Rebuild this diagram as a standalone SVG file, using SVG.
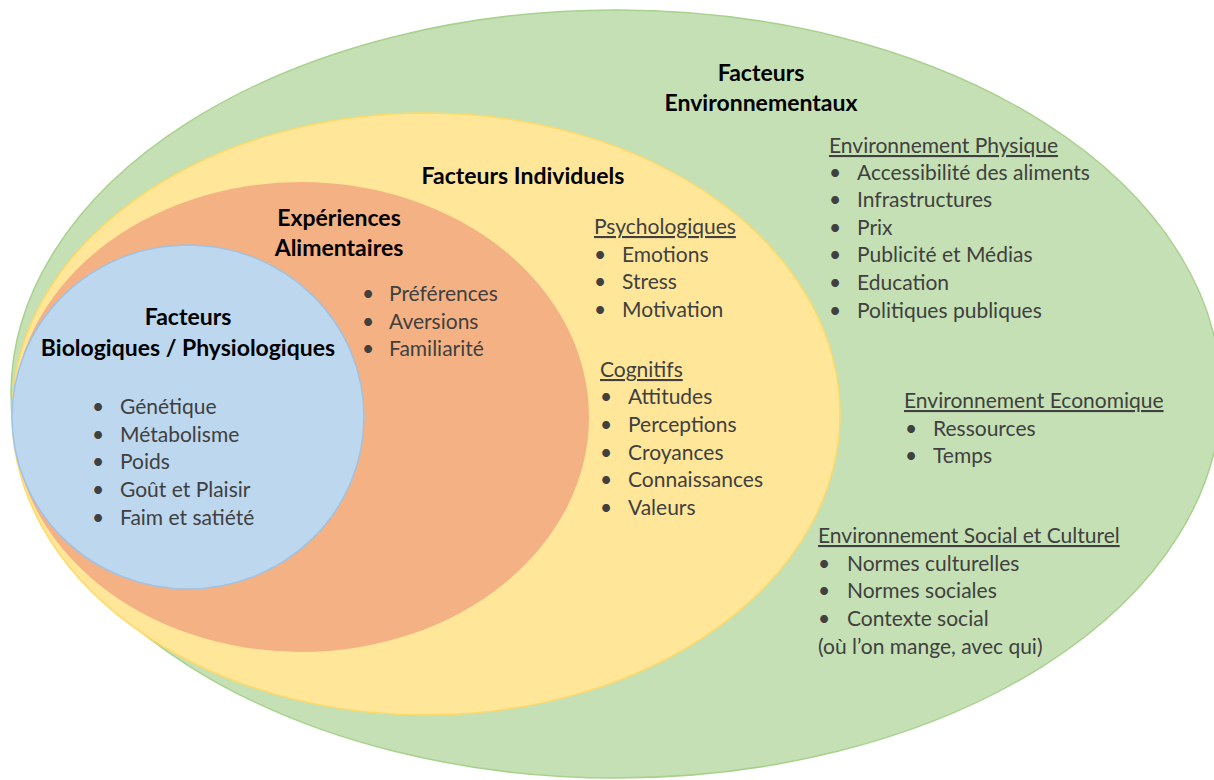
<svg xmlns="http://www.w3.org/2000/svg" width="1214" height="780" viewBox="0 0 1214 780">
<style>
.t{font-family:Lato,"Liberation Sans",sans-serif;font-size:21px;fill:#404040}
.h{font-family:Lato,"Liberation Sans",sans-serif;font-size:23px;font-weight:bold;fill:#000;text-anchor:middle}
.u{text-decoration:underline}
</style>
<rect width="1214" height="780" fill="#fff"/>
<g id="env">
<ellipse cx="616" cy="394" rx="605" ry="384" fill="#C5E0B4" stroke="#A9D18E" stroke-width="1.5"/>
<text class="h" x="761" y="81">Facteurs</text>
<text class="h" x="761" y="111">Environnementaux</text>
<text class="t u" x="829" y="153">Environnement Physique</text>
<text class="t" x="829" y="180">•<tspan x="857">Accessibilité des aliments</tspan></text>
<text class="t" x="829" y="207">•<tspan x="857">Infrastructures</tspan></text>
<text class="t" x="829" y="235">•<tspan x="857">Prix</tspan></text>
<text class="t" x="829" y="262">•<tspan x="857">Publicité et Médias</tspan></text>
<text class="t" x="829" y="290">•<tspan x="857">Education</tspan></text>
<text class="t" x="829" y="318">•<tspan x="857">Politiques publiques</tspan></text>
<text class="t u" x="904" y="408">Environnement Economique</text>
<text class="t" x="905" y="436">•<tspan x="933">Ressources</tspan></text>
<text class="t" x="905" y="463">•<tspan x="933">Temps</tspan></text>
<text class="t u" x="818" y="543">Environnement Social et Culturel</text>
<text class="t" x="818" y="571">•<tspan x="847">Normes culturelles</tspan></text>
<text class="t" x="818" y="598">•<tspan x="847">Normes sociales</tspan></text>
<text class="t" x="818" y="626">•<tspan x="847">Contexte social</tspan></text>
<text class="t" x="818" y="654">(où l’on mange, avec qui)</text>
</g>
<g id="indiv">
<ellipse cx="426" cy="414" rx="414" ry="301" fill="#FFE699" stroke="#FFD966" stroke-width="1.5"/>
<text class="h" x="523" y="184">Facteurs Individuels</text>
<text class="t u" x="594" y="234">Psychologiques</text>
<text class="t" x="594" y="262">•<tspan x="622">Emotions</tspan></text>
<text class="t" x="594" y="289">•<tspan x="622">Stress</tspan></text>
<text class="t" x="594" y="317">•<tspan x="622">Motivation</tspan></text>
<text class="t u" x="600" y="377">Cognitifs</text>
<text class="t" x="600" y="404">•<tspan x="628">Attitudes</tspan></text>
<text class="t" x="600" y="432">•<tspan x="628">Perceptions</tspan></text>
<text class="t" x="600" y="460">•<tspan x="628">Croyances</tspan></text>
<text class="t" x="600" y="487">•<tspan x="628">Connaissances</tspan></text>
<text class="t" x="600" y="515">•<tspan x="628">Valeurs</tspan></text>
</g>
<g id="exp">
<ellipse cx="301" cy="417" rx="288" ry="235" fill="#F4B183"/>
<text class="h" x="339" y="226">Expériences</text>
<text class="h" x="339" y="256">Alimentaires</text>
<text class="t" x="362" y="301">•<tspan x="389">Préférences</tspan></text>
<text class="t" x="362" y="329">•<tspan x="389">Aversions</tspan></text>
<text class="t" x="362" y="356">•<tspan x="389">Familiarité</tspan></text>
</g>
<g id="bio">
<ellipse cx="188" cy="417" rx="176" ry="172" fill="#BDD7EE" stroke="#9DC3E6" stroke-width="1.5"/>
<text class="h" x="188" y="325">Facteurs</text>
<text class="h" x="188" y="356">Biologiques / Physiologiques</text>
<text class="t" x="92" y="414">•<tspan x="120">Génétique</tspan></text>
<text class="t" x="92" y="442">•<tspan x="120">Métabolisme</tspan></text>
<text class="t" x="92" y="469">•<tspan x="120">Poids</tspan></text>
<text class="t" x="92" y="497">•<tspan x="120">Goût et Plaisir</tspan></text>
<text class="t" x="92" y="525">•<tspan x="120">Faim et satiété</tspan></text>
</g>
<g id="connectors"/>
</svg>
